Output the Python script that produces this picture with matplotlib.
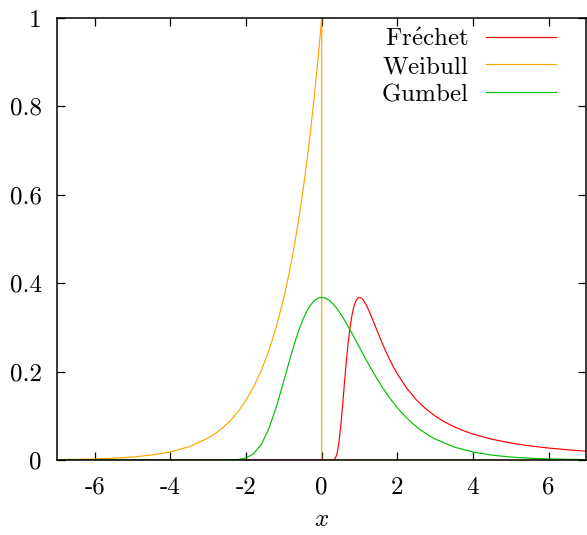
import matplotlib
matplotlib.use("Agg")
import matplotlib.pyplot as plt

# Weibull density (alpha = 1): nonzero for x <= 0, jumps to 0 at x = 0
weibull_x = [-7.0, -6.5, -6.0, -5.5, -5.0, -4.5, -4.0, -3.5, -3.0, -2.8, -2.6,
             -2.4, -2.2, -2.0, -1.8, -1.6, -1.4, -1.2, -1.0, -0.9, -0.8, -0.7,
             -0.6, -0.5, -0.4, -0.3, -0.2, -0.1, 0.0, 0.0, 7.0]
weibull_y = [0.000912, 0.001503, 0.002479, 0.004087, 0.006738, 0.011109,
             0.018316, 0.030197, 0.049787, 0.060810, 0.074274, 0.090718,
             0.110803, 0.135335, 0.165299, 0.201897, 0.246597, 0.301194,
             0.367879, 0.406570, 0.449329, 0.496585, 0.548812, 0.606531,
             0.670320, 0.740818, 0.818731, 0.904837, 1.0, 0.0, 0.0]

# Gumbel density
gumbel_x = [-7.0, -3.0, -2.6, -2.4, -2.2, -2.0, -1.8, -1.6, -1.4, -1.2, -1.0,
            -0.9, -0.8, -0.7, -0.6, -0.5, -0.4, -0.3, -0.2, -0.1, 0.0, 0.1,
            0.2, 0.3, 0.4, 0.5, 0.6, 0.7, 0.8, 1.0, 1.2, 1.4,
            1.6, 1.8, 2.0, 2.2, 2.4, 2.6, 2.8, 3.0, 3.5, 4.0, 4.5, 5.0, 5.5,
            6.0, 6.5, 7.0]
gumbel_y = [0.0, 0.0, 0.000019, 0.000180, 0.001086, 0.004566, 0.014270,
            0.034979, 0.070285, 0.120020, 0.179374, 0.210220, 0.240378,
            0.268810, 0.294604, 0.317042, 0.335605, 0.349986, 0.360091,
            0.365982, 0.367879, 0.366104, 0.361052, 0.353165, 0.342897,
            0.330704, 0.317013, 0.302224,
            0.286698, 0.254646, 0.222865, 0.192705, 0.164985, 0.140114,
            0.118204, 0.099182, 0.082850, 0.068957, 0.057222, 0.047369,
            0.029299, 0.017984, 0.010986, 0.006693, 0.004070, 0.002473,
            0.001501, 0.000911]

# Frechet density: zero for x <= 0
frechet_x = [-7.0, 0.0, 0.30, 0.35, 0.40, 0.45, 0.50, 0.55, 0.60, 0.65, 0.70,
             0.75, 0.80, 0.85, 0.90, 0.95, 1.00, 1.05, 1.10, 1.15, 1.20, 1.30,
             1.40, 1.50, 1.60, 1.70, 1.80, 1.90, 2.00, 2.25, 2.50, 2.75, 3.00,
             3.25, 3.50, 3.75, 4.00, 4.50, 5.00, 5.50, 6.00, 6.50, 7.00]
frechet_y = [0.0, 0.0, 0.000166, 0.002326, 0.012065, 0.035391, 0.073263,
             0.121224, 0.172709, 0.221947, 0.265152, 0.300463, 0.327517,
             0.346788, 0.359210, 0.365881, 0.367879, 0.366187, 0.361654,
             0.354990, 0.346772, 0.327442, 0.306313, 0.284969, 0.264310,
             0.244809, 0.226680, 0.209985, 0.194700, 0.162125, 0.136343,
             0.115853, 0.099427, 0.086123, 0.075234, 0.066230, 0.058713,
             0.047003, 0.038432, 0.031983, 0.027017, 0.023115, 0.019996]

x_ticks = [-6, -4, -2, 0, 2, 4, 6]
x_tick_labels = ["-6", "-4", "-2", "0", "2", "4", "6"]
y_ticks = [0, 0.2, 0.4, 0.6, 0.8, 1.0]
y_tick_labels = ["0", "0.2", "0.4", "0.6", "0.8", "1"]

plt.rcParams["mathtext.fontset"] = "cm"
plt.rcParams["font.family"] = ["cmr10", "DejaVu Serif"]
plt.rcParams["axes.unicode_minus"] = False

fig = plt.figure(figsize=(5.87, 5.35), dpi=100)
ax = fig.add_axes([0.0971, 0.1402, 0.9019, 0.8262])

ax.plot(frechet_x, frechet_y, color="#ff0000", lw=0.85,
        label=r"$\mathrm{Fr\acute{e}chet}$")
ax.plot(weibull_x, weibull_y, color="#ffa500", lw=0.85,
        label=r"$\mathrm{Weibull}$")
ax.plot(gumbel_x, gumbel_y, color="#00c000", lw=0.85,
        label=r"$\mathrm{Gumbel}$")

ax.set_xlim(-7, 7)
ax.set_ylim(0, 1)
ax.set_xticks(x_ticks)
ax.set_xticklabels(x_tick_labels)
ax.set_yticks(y_ticks)
ax.set_yticklabels(y_tick_labels)
ax.tick_params(direction="in", length=6, width=0.9, top=True, right=True,
               labelsize=18)
ax.tick_params(axis="x", pad=12)
ax.tick_params(axis="y", pad=11)
for s in ax.spines.values():
    s.set_linewidth(1.1)

ax.set_xlabel(r"$x$", fontsize=18, labelpad=7)

ax.legend(loc="upper right", bbox_to_anchor=(0.948, 0.9835),
          frameon=False, markerfirst=False, fontsize=18,
          handlelength=2.8, handletextpad=0.7, labelspacing=0.2,
          borderaxespad=0.0, borderpad=0.1)

fig.savefig("out.png", dpi=100)
